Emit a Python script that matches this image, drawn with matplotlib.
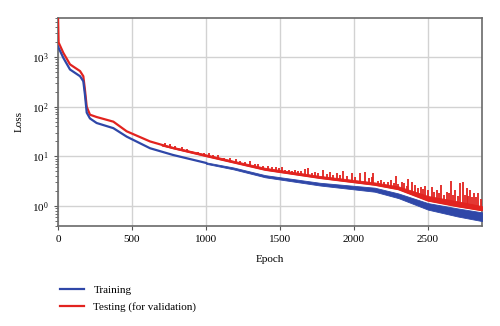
import numpy as np
import matplotlib
matplotlib.use("Agg")
import matplotlib.pyplot as plt

plt.rcParams['font.family'] = ['Liberation Serif', 'DejaVu Serif']
plt.rcParams['font.size'] = 8

# training curve (thin line part)
train_ep = [0, 36, 81, 149, 171, 182, 194, 216, 261, 374, 464, 622, 777, 1000]
train_val = [1620, 960, 560, 410, 325, 175, 76, 58, 47, 37, 25, 14.6, 10.7, 7.4]

# noisy band of the training curve after ~1000 epochs
band_ep = [1000, 1185, 1400, 1770, 2140, 2300, 2500, 2700, 2865]
band_hi = [7.6, 6.0, 4.2, 2.95, 2.35, 1.8, 1.15, 0.9, 0.75]
band_lo = [7.1, 5.5, 3.8, 2.6, 1.95, 1.45, 0.85, 0.62, 0.5]

# testing curve, lower envelope
test_ep = [0, 4, 36, 81, 149, 171, 182, 194, 216, 261, 374, 464, 622, 777,
           1000, 1185, 1400, 1770, 2140, 2300, 2500, 2700, 2865]
test_val = [6500, 1960, 1210, 710, 520, 410, 220, 100, 69, 62, 50, 32, 20, 14.7,
            10.2, 7.6, 5.4, 3.7, 2.7, 2.2, 1.3, 1.0, 0.83]

# thin noisy band on top of the testing curve
tband_ep = [700, 1000, 1185, 1400, 1770, 2140, 2300, 2500, 2700, 2865]
tband_lo = [16.5, 10.2, 7.6, 5.4, 3.7, 2.7, 2.2, 1.3, 1.0, 0.83]
tband_hi = [17.5, 11.0, 8.2, 5.9, 4.05, 3.0, 2.5, 1.6, 1.25, 1.0]

# spikes on the testing curve
spike_ep = [720, 760, 790, 836, 870, 900, 948, 985, 1020, 1050, 1081, 1120,
            1162, 1200, 1230, 1265, 1297, 1330, 1350, 1385, 1420, 1445, 1470,
            1490, 1511, 1535, 1560, 1580, 1601, 1625, 1645, 1669, 1692, 1715,
            1736, 1760, 1791, 1815, 1838, 1860, 1883, 1905, 1928, 1955, 1984,
            2010, 2041, 2074, 2100, 2119, 2131, 2160, 2180, 2205, 2230, 2250,
            2270, 2284, 2300, 2322, 2340, 2355, 2367, 2390, 2412, 2430, 2450,
            2465, 2480, 2500, 2525, 2540, 2559, 2575, 2588, 2605, 2626, 2640,
            2655, 2670, 2682, 2700, 2716, 2734, 2748, 2761, 2772, 2784, 2798,
            2811, 2825, 2840, 2855]
spike_val = [18.5, 17.5, 16.5, 15.8, 14, 13, 12.5, 11.5, 11.5, 10.5, 10.7, 9.5,
             9.2, 8.8, 8.2, 7.6, 8.1, 7.0, 7.0, 6.4, 6.3, 6.1, 6.0,
             5.8, 6.2, 5.4, 5.4, 5.2, 5.3, 5.0, 5.1, 5.5, 5.8, 4.6,
             4.9, 4.6, 5.3, 4.4, 4.9, 4.3, 4.7, 4.2, 5.2, 4.0, 4.6,
             3.9, 4.7, 4.9, 3.6, 3.9, 4.6, 3.2, 3.3, 3.0, 3.0, 3.4,
             2.9, 4.0, 2.8, 3.1, 2.9, 2.6, 3.5, 3.0, 2.7, 2.3, 2.4,
             2.2, 2.5, 2.1, 2.45, 1.9, 2.1, 1.8, 2.65, 1.7, 1.95, 1.8,
             3.2, 1.7, 2.1, 1.6, 2.9, 3.1, 1.7, 2.3, 1.6, 2.1, 1.5,
             1.8, 1.5, 1.85, 1.4]

BLUE = '#2f47a8'
RED = '#e2231f'

fig = plt.figure(figsize=(5, 3.26), dpi=100)
ax = fig.add_axes([0.116, 0.307, 0.848, 0.638])

# spikes anchored on the testing baseline
base = 10 ** np.interp(spike_ep, test_ep, np.log10(test_val))
ax.vlines(spike_ep, base, spike_val, color=RED, lw=1.3, zorder=3)
ax.fill_between(tband_ep, tband_lo, tband_hi, color=RED, lw=0.6,
                edgecolor=RED, zorder=3)
ax.plot(test_ep, test_val, color=RED, lw=1.6, zorder=3,
        label='Testing (for validation)')

ax.fill_between(band_ep, band_lo, band_hi, color=BLUE, lw=0.6,
                edgecolor=BLUE, zorder=4)
ax.plot(train_ep, train_val, color=BLUE, lw=1.6, zorder=4, label='Training')

ax.set_yscale('log')
ax.set_xlim(0, 2865)
ax.set_ylim(0.4, 6100)
ax.set_xticks([0, 500, 1000, 1500, 2000, 2500])
ax.set_yticks([1, 10, 100, 1000])

ax.grid(True, which='major', color='#d2d2d2', lw=1.0)
ax.set_axisbelow(True)
for s in ax.spines.values():
    s.set_color('#6a6a6a')
    s.set_linewidth(1.2)
ax.tick_params(which='major', length=3, color='#555555', labelsize=8)
ax.tick_params(which='minor', length=2, color='#555555')

ax.set_xlabel('Epoch', labelpad=8)
ax.set_ylabel('Loss', labelpad=6)

h, l = ax.get_legend_handles_labels()
fig.legend(h[::-1], l[::-1], loc='upper left', bbox_to_anchor=(0.1, 0.155),
           frameon=False, fontsize=8, handlelength=2.2, labelspacing=0.6)

fig.savefig('out.png', dpi=100)
